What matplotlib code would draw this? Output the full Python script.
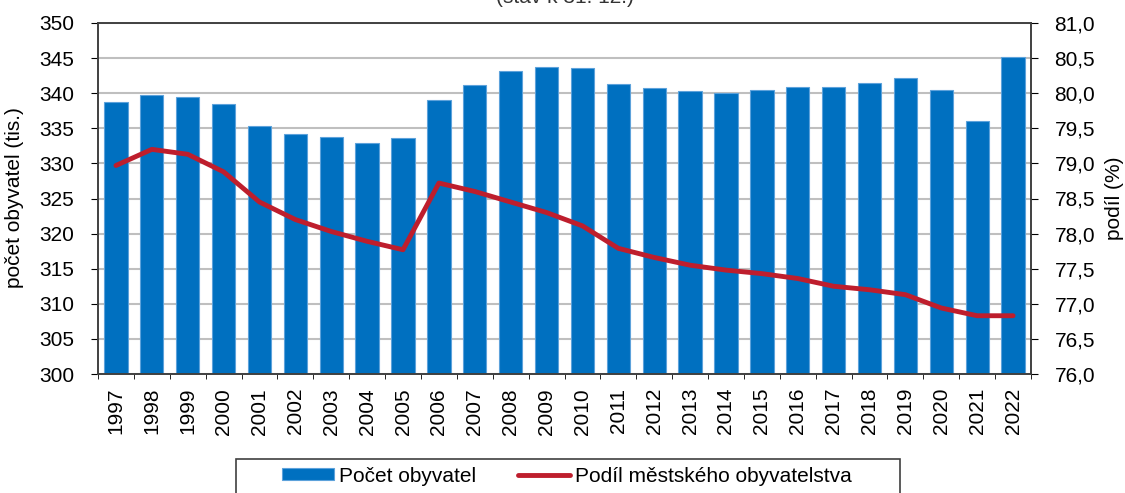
import matplotlib.pyplot as plt
from matplotlib.patches import Rectangle
import numpy as np

plt.rcParams['font.family'] = ['Liberation Sans', 'DejaVu Sans']

roky = [str(r) for r in range(1997, 2023)]
pocet = [338.7, 339.8, 339.4, 338.4, 335.3, 334.2, 333.7, 332.9, 333.6, 339.1,
         341.1, 343.1, 343.7, 343.6, 341.3, 340.7, 340.3, 340.0, 340.5, 340.9,
         340.9, 341.5, 342.1, 340.5, 336.0, 345.1]
podil = [78.97, 79.2, 79.13, 78.88, 78.45, 78.2, 78.03, 77.89, 77.77, 78.72,
         78.6, 78.45, 78.3, 78.11, 77.79, 77.66, 77.55, 77.48, 77.43, 77.36,
         77.25, 77.2, 77.13, 76.94, 76.83, 76.83]

W, H = 1125, 493
fs = 15

fig = plt.figure(figsize=(W / 100, H / 100), dpi=100)
ax = fig.add_axes([98 / W, 1 - 374 / H, (1031 - 98) / W, 351 / H])
x = np.arange(len(roky))

bars = ax.bar(x, pocet, width=0.65, color='#0070C0', edgecolor='#5DA2DB',
              linewidth=0.8, label='Počet obyvatel', zorder=2)
ax.set_ylim(300, 350)
ax.set_xlim(-0.5, len(roky) - 0.5)
ax.set_yticks(np.arange(300, 351, 5))
ax.yaxis.grid(True, color='#BFBFBF', linewidth=1.5, zorder=0)
ax.set_axisbelow(True)
ax.tick_params(axis='y', labelsize=fs, direction='out', length=5, pad=12)

ax.set_xticks(x)
ax.set_xticklabels(roky, rotation=90, fontsize=fs)
ax.tick_params(axis='x', which='major', length=0, pad=10)
ax.set_xticks(np.arange(-0.5, len(roky), 1), minor=True)
ax.tick_params(axis='x', which='minor', length=3.6, direction='out')

ax2 = ax.twinx()
line, = ax2.plot(x, podil, color='#BE1E2D', linewidth=3.5,
                 solid_capstyle='round', label='Podíl městského obyvatelstva', zorder=3)
ax2.set_ylim(76, 81)
ax2.set_yticks(np.arange(76, 81.01, 0.5))
ax2.set_yticklabels([f'{v:.1f}'.replace('.', ',') for v in np.arange(76, 81.01, 0.5)])
ax2.tick_params(axis='y', labelsize=fs, direction='out', length=5, pad=12)

for a in (ax, ax2):
    for s in a.spines.values():
        s.set_color('#404040')
        s.set_linewidth(1.2)

ymid = 1 - 198 / H
fig.text(15 / W, ymid, 'počet obyvatel (tis.)', rotation=90, ha='center', va='center',
         fontsize=fs)
fig.text(1114 / W, ymid, 'podíl (%)', rotation=90, ha='center', va='center', fontsize=fs)

fig.text(565 / W, 1 - 3 / H, '(stav k 31. 12.)', ha='center', va='baseline',
         fontsize=fs, color='#333333')

# legend frame (box runs past the bottom edge like in the original)
fig.patches.append(Rectangle((236 / W, -0.05), (900 - 236) / W, 0.05 + 1 - 459 / H,
                             transform=fig.transFigure, fill=False,
                             edgecolor='#404040', linewidth=1.2))
fig.legend([bars, line], ['Počet obyvatel', 'Podíl městského obyvatelstva'],
           loc='center left', bbox_to_anchor=(282 / W, 1 - 476 / H),
           ncol=2, fontsize=fs, frameon=False, borderpad=0, borderaxespad=0,
           handlelength=2.5, handleheight=0.5, handletextpad=0.25, columnspacing=2.0)

fig.savefig('out.png', dpi=100)
